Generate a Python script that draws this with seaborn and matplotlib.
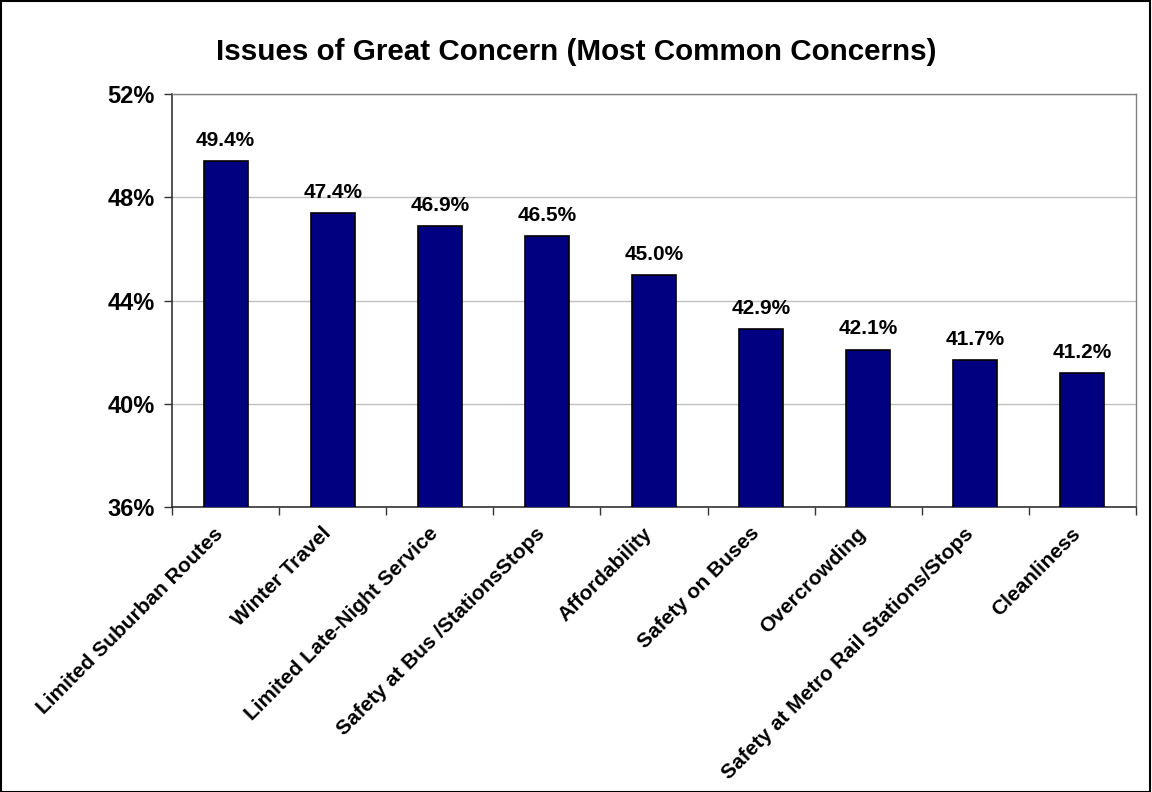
import matplotlib
matplotlib.use("Agg")
import matplotlib.pyplot as plt
import matplotlib.ticker as mticker
import matplotlib.transforms as mtransforms
from matplotlib.patches import Rectangle
import seaborn as sns
import pandas as pd

categories = [
    "Limited Suburban Routes",
    "Winter Travel",
    "Limited Late-Night Service",
    "Safety at Bus /StationsStops",
    "Affordability",
    "Safety on Buses",
    "Overcrowding",
    "Safety at Metro Rail Stations/Stops",
    "Cleanliness",
]
values = [49.4, 47.4, 46.9, 46.5, 45.0, 42.9, 42.1, 41.7, 41.2]
y_ticks = [36, 40, 44, 48, 52]
title = "Issues of Great Concern (Most Common Concerns)"

sns.set_style("white")
plt.rcParams["font.family"] = ["Liberation Sans", "DejaVu Sans"]
plt.rcParams["text.color"] = "black"
plt.rcParams["xtick.color"] = "#333333"
plt.rcParams["ytick.color"] = "#333333"
plt.rcParams["xtick.labelcolor"] = "black"
plt.rcParams["ytick.labelcolor"] = "black"

df = pd.DataFrame({"issue": categories, "pct": values})

fig = plt.figure(figsize=(11.52, 7.92), dpi=100)
ax = fig.add_axes([172 / 1152, 1 - 507 / 792, (1136 - 172) / 1152, (507 - 94) / 792])

sns.barplot(data=df, x="issue", y="pct", color="#000080", width=0.41,
            edgecolor="black", linewidth=1.2, saturation=1, ax=ax, zorder=3)

ax.set_ylim(y_ticks[0], y_ticks[-1])
ax.set_xlim(-0.5, len(categories) - 0.5)
ax.set_yticks(y_ticks)
ax.yaxis.set_major_formatter(mticker.FuncFormatter(lambda v, p: f"{v:.0f}%"))
ax.yaxis.grid(True, color="#c0c0c0", linewidth=1, zorder=0)
ax.set_xlabel("")
ax.set_ylabel("")

# category labels at bar centers, tick marks between categories
ax.set_xticks(range(len(categories)))
ax.set_xticklabels(categories, rotation=45, ha="right", va="center",
                   rotation_mode="anchor", fontsize=15, fontweight="bold", color="black")
ax.tick_params(axis="x", which="major", bottom=True, length=0, pad=17)
shift = mtransforms.ScaledTranslation(-5 / 100, 0, fig.dpi_scale_trans)
for lab in ax.get_xticklabels():
    lab.set_transform(lab.get_transform() + shift)
ax.set_xticks([i - 0.5 for i in range(len(categories) + 1)], minor=True)
ax.tick_params(axis="x", which="minor", bottom=True, length=6, width=1,
               color="#333333", direction="out")
ax.tick_params(axis="y", which="major", left=True, length=6, width=1, color="#333333",
               direction="out", labelsize=17, pad=6.5)
for lab in ax.get_yticklabels():
    lab.set_fontweight("bold")

for s in ["left", "bottom"]:
    ax.spines[s].set_color("#333333")
    ax.spines[s].set_linewidth(1.2)
for s in ["top", "right"]:
    ax.spines[s].set_color("#808080")
    ax.spines[s].set_linewidth(1)

for i, v in enumerate(values):
    ax.annotate(f"{v:.1f}%", (i, v), xytext=(0, 8), textcoords="offset points",
                ha="center", va="bottom", fontsize=15, fontweight="bold", zorder=4)

fig.text(0.5, 1 - 52 / 792, title, ha="center", va="center",
         fontsize=21.3, fontweight="bold")

fig.patches.append(Rectangle((0.0005, 0.0005), 0.998, 0.998, transform=fig.transFigure,
                             fill=False, edgecolor="black", linewidth=1.5))

fig.savefig("out.png", dpi=100)
